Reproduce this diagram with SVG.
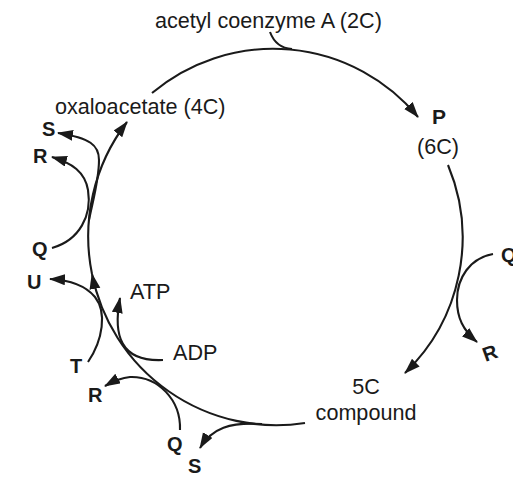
<svg xmlns="http://www.w3.org/2000/svg" width="513" height="489" viewBox="0 0 513 489">
<defs>
<style>
.ln{fill:none;stroke:#1a1a1a;stroke-width:2.1}
.t{font-family:"Liberation Sans",Arial,sans-serif;font-size:21.6px;fill:#1a1a1a}
.b{font-family:"Liberation Sans",Arial,sans-serif;font-size:20px;font-weight:bold;fill:#1a1a1a}
</style>
<marker id="ah" markerUnits="userSpaceOnUse" markerWidth="18" markerHeight="12" refX="15" refY="5.5" orient="auto">
<path d="M0,0 L16,5.5 L0,11 Z" fill="#1a1a1a"/>
</marker>
</defs>
<rect width="513" height="489" fill="#fff"/>
<g id="connectors">
<path class="ln" d="M270,32 Q276,48 292,49"/>
<path class="ln" d="M152,93 A188,188 0 0 1 418,117" marker-end="url(#ah)"/>
<path class="ln" d="M448,165 A188,188 0 0 1 405,373" marker-end="url(#ah)"/>
<path class="ln" d="M493,254 C470,258 457,278 457,300 C457,318 463,330 477,342" marker-end="url(#ah)"/>
<path class="ln" d="M305,423 A188,188 0 0 1 92,274" marker-end="url(#ah)"/>
<path class="ln" d="M92,274 A188,188 0 0 1 127,122" marker-end="url(#ah)"/>
<path class="ln" d="M89,220 C93,200 99,180 99,160 C99,145 90,138 58,133" marker-end="url(#ah)"/>
<path class="ln" d="M52,248 C80,240 92,215 88,190 C85,172 72,163 52,157" marker-end="url(#ah)"/>
<path class="ln" d="M88,362 C103,340 107,312 95,297 C85,285 70,280 50,279" marker-end="url(#ah)"/>
<path class="ln" d="M163,360 C120,362 113,335 120,298" marker-end="url(#ah)"/>
<path class="ln" d="M180,430 C181,400 158,376 130,377 C120,378 112,382 105,386" marker-end="url(#ah)"/>
<path class="ln" d="M262,424 C230,422 212,428 200,448" marker-end="url(#ah)"/>
</g>
<g id="acetylcoa"><text class="t" x="155" y="28">acetyl coenzyme A (2C)</text></g>
<g id="P"><text class="b" x="432" y="124" style="font-size:21px">P</text><text class="t" x="417" y="154">(6C)</text></g>
<g id="QR-right"><text class="b" x="501" y="262">Q</text><text class="b" x="490" y="360" text-anchor="middle" transform="rotate(-20 490 353)">R</text></g>
<g id="compound5C"><text class="t" x="366" y="394" text-anchor="middle">5C</text><text class="t" x="366" y="420" text-anchor="middle">compound</text></g>
<g id="QS-bottom"><text class="b" x="167" y="451">Q</text><text class="b" x="188" y="473">S</text></g>
<g id="R-bottom"><text class="b" x="88" y="402">R</text></g>
<g id="ADP"><text class="t" x="173" y="360">ADP</text></g>
<g id="ATP"><text class="t" x="130" y="299">ATP</text></g>
<g id="TU"><text class="b" x="70" y="373">T</text><text class="b" x="27" y="289">U</text></g>
<g id="QR-left"><text class="b" x="32" y="256">Q</text><text class="b" x="33" y="163">R</text></g>
<g id="S-left"><text class="b" x="42" y="136">S</text></g>
<g id="oxaloacetate"><text class="t" x="55" y="114">oxaloacetate (4C)</text></g>
</svg>
